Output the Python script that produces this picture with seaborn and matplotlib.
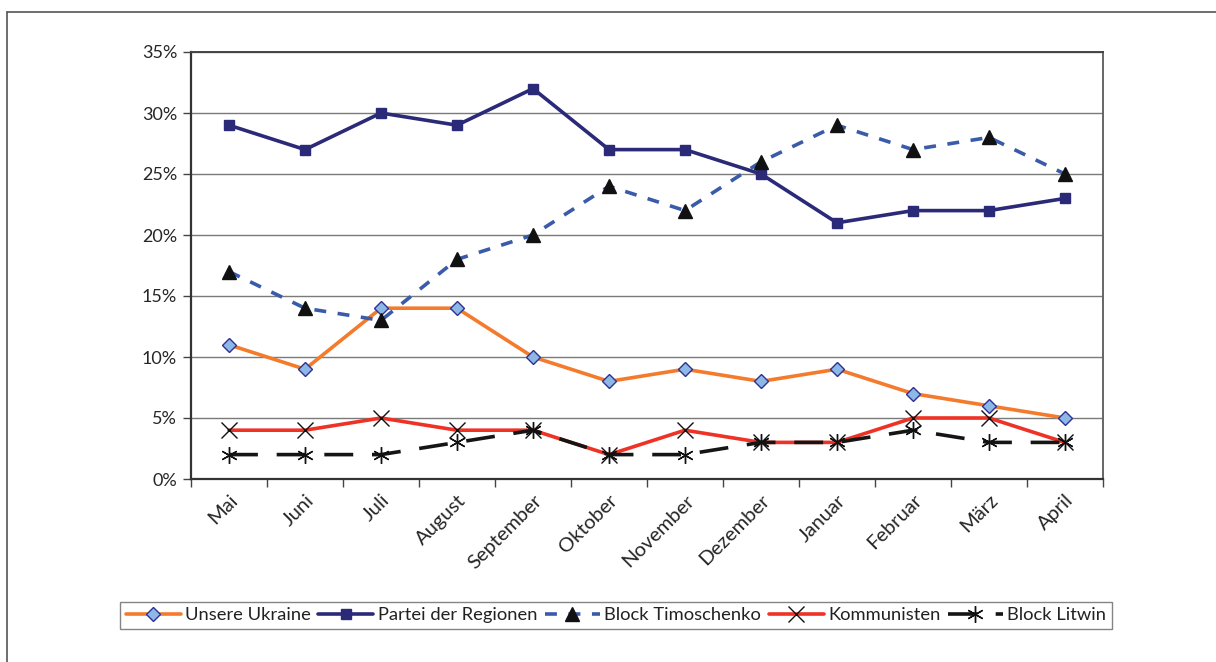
import matplotlib
matplotlib.use("Agg")
import matplotlib.pyplot as plt
from matplotlib.lines import Line2D
from matplotlib.ticker import FixedLocator, PercentFormatter
import numpy as np
import pandas as pd
import seaborn as sns

# Survey results by month (percent)
months = ["Mai", "Juni", "Juli", "August", "September", "Oktober",
          "November", "Dezember", "Januar", "Februar", "März", "April"]
unsere_ukraine = [11, 9, 14, 14, 10, 8, 9, 8, 9, 7, 6, 5]
partei_der_regionen = [29, 27, 30, 29, 32, 27, 27, 25, 21, 22, 22, 23]
block_timoschenko = [17, 14, 13, 18, 20, 24, 22, 26, 29, 27, 28, 25]
kommunisten = [4, 4, 5, 4, 4, 2, 4, 3, 3, 5, 5, 3]
block_litwin = [2, 2, 2, 3, 4, 2, 2, 3, 3, 4, 3, 3]
y_ticks = [0, 5, 10, 15, 20, 25, 30, 35]

sns.set_theme(style="white")
plt.rcParams["font.family"] = ["Lato", "DejaVu Sans"]
plt.rcParams["text.color"] = "#222222"

fig = plt.figure(figsize=(12.16, 6.62), dpi=100)
ax = fig.add_axes([191 / 1216, 1 - 479 / 662, 912 / 1216, 427 / 662])

x = np.arange(len(months))
lw = 2.6

series = [
    dict(name="Unsere Ukraine", y=unsere_ukraine, color="#F47A2C", marker="D",
         ms=7.5, mfc="#8DB8E6", mec="#2E3192", mew=1.0, ls="-"),
    dict(name="Partei der Regionen", y=partei_der_regionen, color="#2B2A78",
         marker="s", ms=6.5, mfc="#2B2A78", mec="#2B2A78", mew=1.0, ls="-"),
    dict(name="Block Timoschenko", y=block_timoschenko, color="#3A5BAA",
         marker="^", ms=10, mfc="#111111", mec="#111111", mew=1.0,
         ls=(0, (3.3, 3.2))),
    dict(name="Kommunisten", y=kommunisten, color="#EE3226", marker="x",
         ms=11, mfc="#111111", mec="#111111", mew=1.0, ls="-"),
    dict(name="Block Litwin", y=block_litwin, color="#151515",
         marker=(6, 2, 0), ms=12, mfc="#111111", mec="#111111", mew=1.0,
         ls=(0, (8.0, 5.2))),
]

for s in series:
    df = pd.DataFrame({"x": x, "y": s["y"]})
    sns.lineplot(data=df, x="x", y="y", ax=ax, color=s["color"], lw=lw,
                 marker=s["marker"], markersize=s["ms"],
                 markerfacecolor=s["mfc"], markeredgecolor=s["mec"],
                 markeredgewidth=s["mew"], linestyle=s["ls"],
                 label=s["name"], legend=False, zorder=3)

ax.set_xlim(-0.5, len(months) - 0.5)
ax.set_ylim(0, 35)
ax.set_xlabel("")
ax.set_ylabel("")

# horizontal grid
ax.yaxis.set_major_locator(FixedLocator(y_ticks))
ax.yaxis.set_major_formatter(PercentFormatter(decimals=0))
ax.grid(axis="y", color="#7a7a7a", lw=1.0)
ax.grid(axis="x", visible=False)
ax.set_axisbelow(True)

# category labels at centres, tick marks on category boundaries
ax.set_xticks(x)
ax.set_xticklabels(months, rotation=45, ha="right", rotation_mode="anchor")
ax.xaxis.set_minor_locator(FixedLocator(np.arange(-0.5, len(months), 1.0)))
ax.tick_params(axis="x", which="major", length=0, pad=9, labelsize=14.5)
ax.tick_params(axis="x", which="minor", length=6, width=1.0, color="#444444",
               direction="out", bottom=True)
ax.tick_params(axis="y", length=6, width=1.0, color="#444444",
               direction="out", left=True, labelsize=13, pad=4)

for side in ["left", "bottom"]:
    ax.spines[side].set_color("#333333")
    ax.spines[side].set_linewidth(1.6)
ax.spines["top"].set_color("#444444")
ax.spines["top"].set_linewidth(1.4)
ax.spines["right"].set_color("#666666")
ax.spines["right"].set_linewidth(1.4)

handles = []
for s in series:
    handles.append(Line2D([], [], color=s["color"], lw=lw, ls=s["ls"],
                          marker=s["marker"], markersize=s["ms"],
                          markerfacecolor=s["mfc"], markeredgecolor=s["mec"],
                          markeredgewidth=s["mew"]))
leg = fig.legend(handles, [s["name"] for s in series], loc="center",
                 bbox_to_anchor=(616 / 1216, 1 - 615 / 662), ncol=5,
                 frameon=True, fancybox=False, fontsize=13.2,
                 handlelength=3.0, handletextpad=0.25, columnspacing=0.4,
                 borderpad=0.3, borderaxespad=0)
leg.get_frame().set_edgecolor("#666666")
leg.get_frame().set_linewidth(1.0)

# outer frame (left and top edges)
fig.add_artist(Line2D([7 / 1216, 7 / 1216], [0, 1 - 12 / 662],
                      transform=fig.transFigure, color="#555555", lw=1.2))
fig.add_artist(Line2D([7 / 1216, 1], [1 - 12 / 662, 1 - 12 / 662],
                      transform=fig.transFigure, color="#555555", lw=1.2))

fig.savefig("out.png", dpi=100, facecolor="white")
